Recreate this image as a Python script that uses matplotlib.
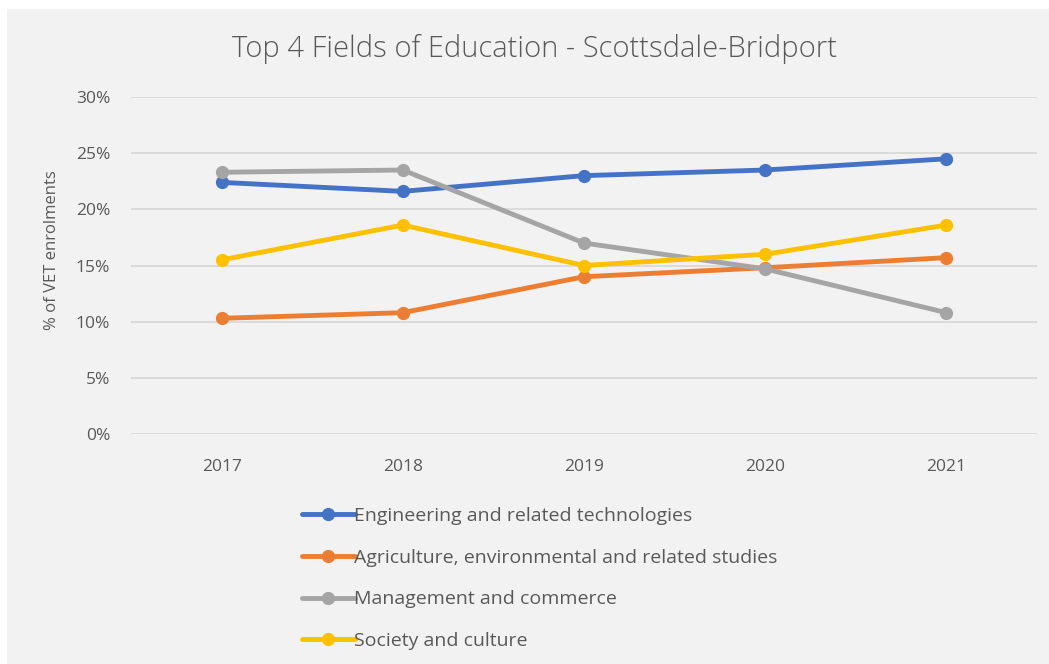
import matplotlib
matplotlib.use("Agg")
import matplotlib.pyplot as plt
from matplotlib.patches import Rectangle
from matplotlib.ticker import PercentFormatter

plt.rcParams['font.family'] = ['Open Sans', 'DejaVu Sans']

years = ["2017", "2018", "2019", "2020", "2021"]
engineering = [22.4, 21.6, 23.0, 23.5, 24.5]
agriculture = [10.3, 10.8, 14.0, 14.8, 15.7]
management = [23.3, 23.5, 17.0, 14.7, 10.8]
society = [15.5, 18.6, 15.0, 16.0, 18.6]

series_names = [
    "Engineering and related technologies",
    "Agriculture, environmental and related studies",
    "Management and commerce",
    "Society and culture",
]
series_values = [engineering, agriculture, management, society]
series_colors = ["#4472C4", "#ED7D31", "#A5A5A5", "#FFC000"]

text_grey = "#595959"

fig = plt.figure(figsize=(10.49, 6.64), dpi=100, facecolor="white")
# light grey chart panel with a thin white margin at top and left
fig.patches.append(Rectangle((7 / 1049, 0), 1 - 7 / 1049, 1 - 9 / 664,
                             transform=fig.transFigure, facecolor="#F2F2F2",
                             edgecolor="none", zorder=-10))

ax = fig.add_axes([131 / 1049, 1 - 434 / 664, 906 / 1049, 337 / 664])
ax.set_facecolor("none")

x = range(len(years))
lines = []
for name, vals, col in zip(series_names, series_values, series_colors):
    ln, = ax.plot(x, vals, color=col, lw=3.5, marker="o", markersize=8.5,
                  solid_capstyle="round", label=name, zorder=3)
    lines.append(ln)

ax.set_xlim(-0.5, len(years) - 0.5)
ax.set_ylim(0, 30)
ax.set_yticks(range(0, 31, 5))
ax.yaxis.set_major_formatter(PercentFormatter(decimals=0))
ax.set_xticks(list(x))
ax.set_xticklabels(years)
ax.grid(axis="y", color="#D9D9D9", lw=1.3)
ax.set_axisbelow(True)
for s in ax.spines.values():
    s.set_visible(False)
ax.tick_params(axis="both", length=0, labelsize=12.5, colors=text_grey)
ax.tick_params(axis="y", pad=15)
ax.tick_params(axis="x", pad=18)

fig.text(52 / 1049, 1 - 250 / 664, "% of VET enrolments", rotation=90,
         ha="center", va="center", fontsize=12, color=text_grey)
fig.text(535 / 1049, 1 - 49 / 664, "Top 4 Fields of Education - Scottsdale-Bridport",
         ha="center", va="center", fontsize=21, color=text_grey, fontweight="light")

fig.legend(handles=lines, loc="upper left", bbox_to_anchor=(302 / 1049, 1 - 507 / 664),
           frameon=False, fontsize=14, labelcolor=text_grey, handlelength=2.7,
           handletextpad=0.0, labelspacing=1.22, borderpad=0, borderaxespad=0)

fig.savefig("out.png", dpi=100, facecolor="white")
